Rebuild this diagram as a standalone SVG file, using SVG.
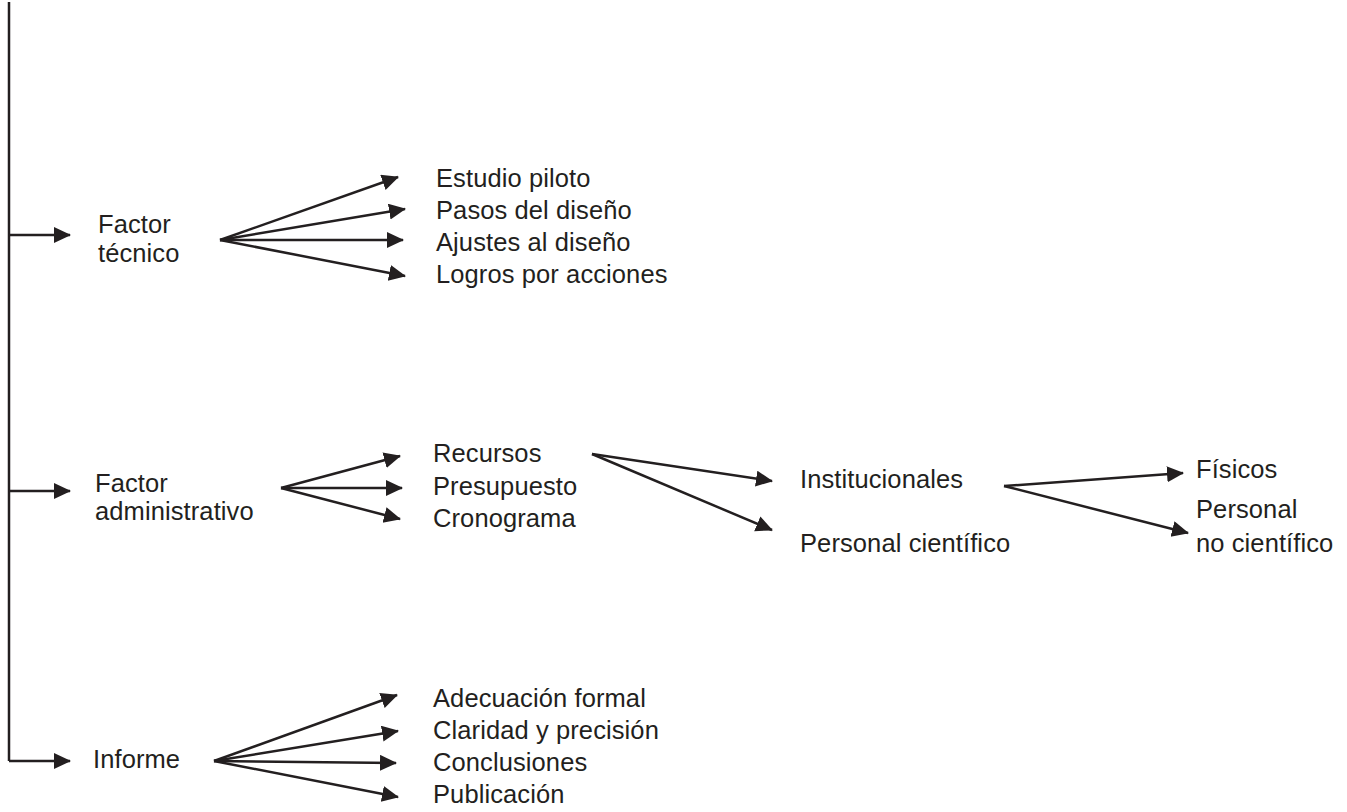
<svg xmlns="http://www.w3.org/2000/svg" width="1347" height="812" viewBox="0 0 1347 812">
<style>
  text { font-family: "Liberation Sans", Arial, sans-serif; font-size: 25.5px; fill: #231f20; letter-spacing: 0.1px; }
  .c { stroke: #231f20; stroke-width: 2.5; fill: none; }
  .a { marker-end: url(#ah); }
</style>
<defs>
  <marker id="ah" markerUnits="userSpaceOnUse" markerWidth="20" markerHeight="18" refX="16" refY="8" orient="auto">
    <path d="M0,0 L17,8 L0,16 z" fill="#231f20"/>
  </marker>
</defs>
<rect width="1347" height="812" fill="#ffffff"/>
<g id="connectors">
  <path class="c" d="M9,2 V761" stroke-width="2.8"/>
  <line class="c a" x1="9" y1="235" x2="70" y2="235"/>
  <line class="c a" x1="9" y1="491" x2="70" y2="491"/>
  <line class="c a" x1="9" y1="761" x2="70" y2="761"/>
  <line class="c a" x1="220" y1="240" x2="398" y2="177"/>
  <line class="c a" x1="220" y1="240" x2="405" y2="209"/>
  <line class="c a" x1="220" y1="240" x2="403" y2="240"/>
  <line class="c a" x1="220" y1="240" x2="405" y2="276"/>
  <line class="c a" x1="281" y1="488" x2="400" y2="456"/>
  <line class="c a" x1="281" y1="488" x2="402" y2="488"/>
  <line class="c a" x1="281" y1="488" x2="400" y2="519"/>
  <line class="c a" x1="592" y1="454" x2="772" y2="481"/>
  <line class="c a" x1="592" y1="454" x2="772" y2="530"/>
  <line class="c a" x1="1004" y1="486" x2="1183" y2="473"/>
  <line class="c a" x1="1004" y1="486" x2="1188" y2="533"/>
  <line class="c a" x1="214" y1="761" x2="397" y2="695"/>
  <line class="c a" x1="214" y1="761" x2="398" y2="731"/>
  <line class="c a" x1="214" y1="761" x2="396" y2="763"/>
  <line class="c a" x1="214" y1="761" x2="398" y2="797"/>
</g>
<g id="factor-tecnico"><text x="98" y="233">Factor</text><text x="98" y="262">técnico</text></g>
<g id="estudio-piloto"><text x="436" y="187">Estudio piloto</text></g>
<g id="pasos-diseno"><text x="436" y="219">Pasos del diseño</text></g>
<g id="ajustes-diseno"><text x="436" y="251">Ajustes al diseño</text></g>
<g id="logros-acciones"><text x="436" y="283">Logros por acciones</text></g>
<g id="factor-administrativo"><text x="95" y="492">Factor</text><text x="95" y="520">administrativo</text></g>
<g id="recursos"><text x="433" y="462">Recursos</text></g>
<g id="presupuesto"><text x="433" y="495">Presupuesto</text></g>
<g id="cronograma"><text x="433" y="527">Cronograma</text></g>
<g id="institucionales"><text x="800" y="488">Institucionales</text></g>
<g id="personal-cientifico"><text x="800" y="552">Personal científico</text></g>
<g id="fisicos"><text x="1196" y="478">Físicos</text></g>
<g id="personal-no-cientifico"><text x="1196" y="518">Personal</text><text x="1196" y="552">no científico</text></g>
<g id="informe"><text x="93" y="768">Informe</text></g>
<g id="adecuacion-formal"><text x="433" y="707">Adecuación formal</text></g>
<g id="claridad-precision"><text x="433" y="739">Claridad y precisión</text></g>
<g id="conclusiones"><text x="433" y="771">Conclusiones</text></g>
<g id="publicacion"><text x="433" y="803">Publicación</text></g>
</svg>
